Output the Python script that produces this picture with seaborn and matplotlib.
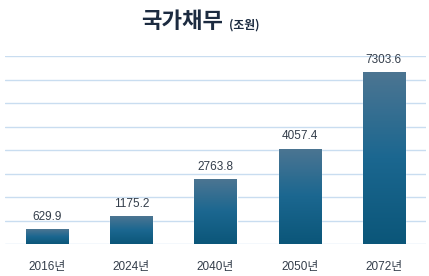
import numpy as np
import matplotlib
matplotlib.use("Agg")
import matplotlib.pyplot as plt
from matplotlib.colors import LinearSegmentedColormap
import seaborn as sns
import pandas as pd

# 데이터
years = ["2016년", "2024년", "2040년", "2050년", "2072년"]
debt = [629.9, 1175.2, 2763.8, 4057.4, 7303.6]

sns.set_theme(style="white")
plt.rcParams["font.family"] = ["Liberation Sans", "Noto Sans CJK KR", "DejaVu Sans"]

df = pd.DataFrame({"year": years, "debt": debt})

fig = plt.figure(figsize=(4.29, 2.76), dpi=100)
ax = fig.add_axes([5 / 429, 1 - 244 / 276, 421 / 429, (244 - 56) / 276])

sns.barplot(data=df, x="year", y="debt", ax=ax, width=0.5, color="#0b5679", saturation=1)

ax.set_ylim(0, 8000)
ax.set_yticks(np.arange(0, 8001, 1000))
ax.yaxis.grid(True, color="#c9ddf0", linewidth=1)
ax.set_axisbelow(True)
for s in ax.spines.values():
    s.set_visible(False)
ax.set_xlabel("")
ax.set_ylabel("")
ax.tick_params(axis="y", left=False, labelleft=False)
ax.tick_params(axis="x", bottom=False, labelsize=8.5, labelcolor="#333d4a", pad=6)

# 막대 그라데이션
cmap = LinearSegmentedColormap.from_list("g", ["#0b5679", "#1b6790", "#4c7592"])
grad = np.linspace(0, 1, 256).reshape(-1, 1)
for p in ax.patches:
    x0, y0 = p.get_x(), p.get_y()
    w, h = p.get_width(), p.get_height()
    im = ax.imshow(grad, extent=[x0, x0 + w, y0, y0 + h], origin="lower",
                   cmap=cmap, aspect="auto", zorder=p.get_zorder())
    im.set_clip_path(p)
    p.set_facecolor("none")
ax.set_xlim(-0.5, len(years) - 0.5)
ax.set_ylim(0, 8000)

for i, v in enumerate(debt):
    ax.text(i, v + 270, f"{v:.1f}", ha="center", va="bottom", fontsize=8.5, color="#333d4a")

fig.text(223 / 429, 1 - 22 / 276, "국가채무", ha="right", va="center", fontsize=16,
         fontweight="bold", color="#1c2b40", family=["Noto Sans CJK KR"])
fig.text(229 / 429, 1 - 25 / 276, "(조원)", ha="left", va="center", fontsize=8.5,
         fontweight="bold", color="#1c2b40", family=["Noto Sans CJK KR"])

fig.savefig("out.png", dpi=100)
